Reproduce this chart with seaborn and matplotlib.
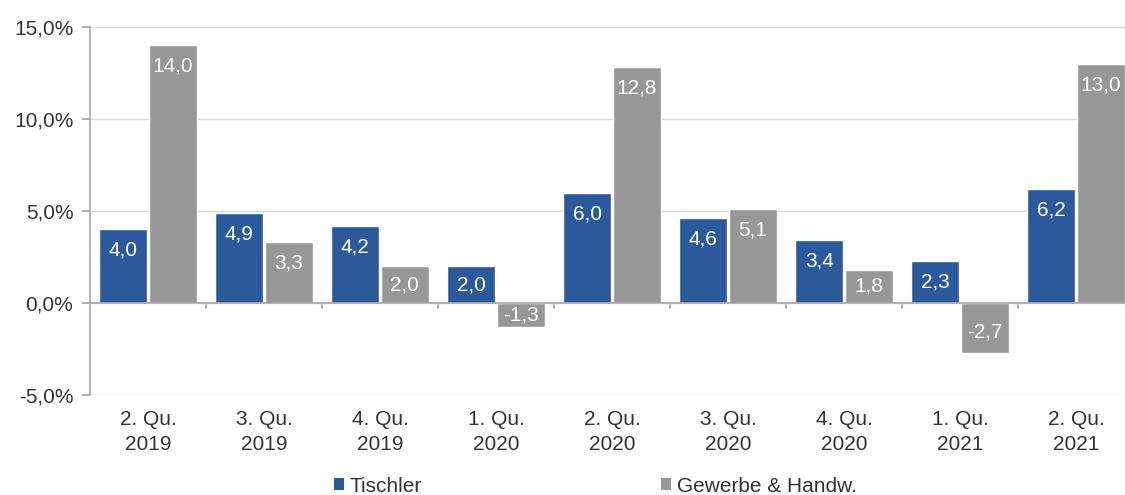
import matplotlib
matplotlib.use("Agg")
import matplotlib.pyplot as plt
import seaborn as sns
import pandas as pd
import numpy as np
from matplotlib.ticker import FuncFormatter
from matplotlib.patches import Patch

categories = ["2. Qu.\n2019", "3. Qu.\n2019", "4. Qu.\n2019", "1. Qu.\n2020", "2. Qu.\n2020",
              "3. Qu.\n2020", "4. Qu.\n2020", "1. Qu.\n2021", "2. Qu.\n2021"]
series_names = ["Tischler", "Gewerbe & Handw."]
tischler = [4.0, 4.9, 4.2, 2.0, 6.0, 4.6, 3.4, 2.3, 6.2]
gewerbe = [14.0, 3.3, 2.0, -1.3, 12.8, 5.1, 1.8, -2.7, 13.0]
colors = ["#2A5A9B", "#979797"]

df = pd.DataFrame({
    "cat": categories * 2,
    "series": [series_names[0]] * len(categories) + [series_names[1]] * len(categories),
    "value": tischler + gewerbe,
})

sns.set_theme(style="white")
plt.rcParams["font.family"] = ["Liberation Sans", "DejaVu Sans"]

FS = 15
TXT = "#333333"

fig = plt.figure(figsize=(11.25, 4.95), dpi=100)
ax = fig.add_axes([90 / 1125, 1 - 395 / 495, 1044 / 1125, 368 / 495])

sns.barplot(data=df, x="cat", y="value", hue="series", order=categories,
            hue_order=series_names, palette=colors, width=0.855, gap=0.04,
            saturation=1, ax=ax, legend=False)

ax.set_ylim(-5, 15)
ax.set_xlim(-0.5, len(categories) - 0.5)
ax.set_yticks([-5, 0, 5, 10, 15])
ax.yaxis.set_major_formatter(FuncFormatter(lambda v, p: f"{v:.1f}%".replace(".", ",")))
ax.grid(axis="y", color="#D9D9D9", linewidth=1)
ax.set_axisbelow(True)
for s in ["top", "right", "bottom"]:
    ax.spines[s].set_visible(False)
ax.spines["left"].set_color("#A6A6A6")
ax.spines["left"].set_linewidth(1.2)
ax.axhline(0, color="#A6A6A6", linewidth=1.2, zorder=3)
for b in np.arange(0.5, len(categories) - 0.5, 1.0):
    ax.plot([b, b], [0, -0.28], color="#A6A6A6", linewidth=1.2, zorder=3, clip_on=False)

ax.tick_params(axis="y", left=True, length=6, color="#A6A6A6", labelsize=FS,
               labelcolor=TXT, pad=6)
ax.tick_params(axis="x", bottom=False, labelsize=FS, labelcolor=TXT, pad=5)
for lbl in ax.get_xticklabels():
    lbl.set_linespacing(1.35)
ax.set_xlabel("")
ax.set_ylabel("")

off = 1.14
for patch in ax.patches:
    h = patch.get_height()
    if np.isnan(h):
        continue
    x = patch.get_x() + patch.get_width() / 2
    d = min(off, abs(h) / 2)
    y = h - np.sign(h) * d
    ax.text(x, y, f"{h:.1f}".replace(".", ","), ha="center", va="center",
            color="white", fontsize=FS, zorder=5)

handles = [Patch(facecolor=c, edgecolor="none") for c in colors]
fig.legend(handles, series_names, loc="center", bbox_to_anchor=(595 / 1125, 1 - 486 / 495),
           ncol=2, frameon=False, fontsize=FS, handlelength=0.5, handleheight=0.5,
           handletextpad=0.25, columnspacing=11.5, labelcolor=TXT, borderpad=0)

fig.savefig("out.png", dpi=100)
